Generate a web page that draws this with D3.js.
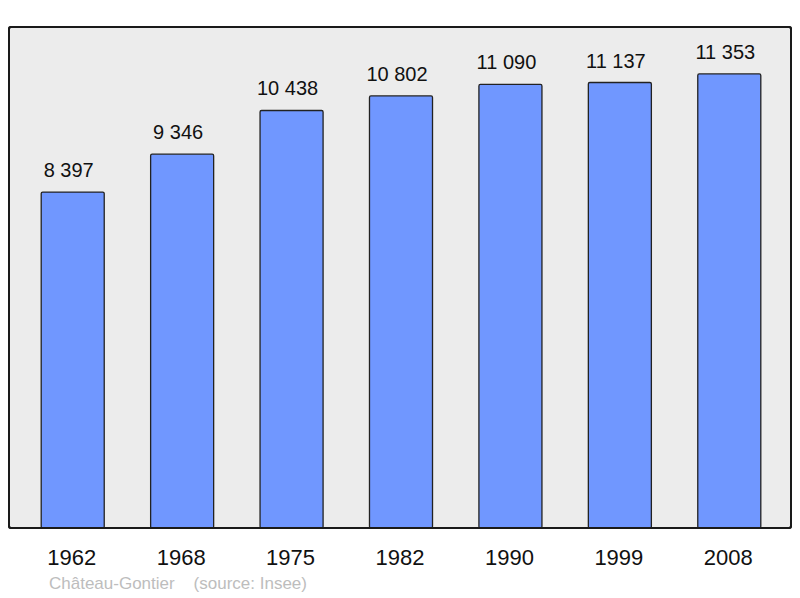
<!DOCTYPE html>
<html>
<head>
<meta charset="utf-8">
<script src="https://cdn.jsdelivr.net/npm/d3@7"></script>
<style>
  body { margin: 0; background: #fff; }
  text { font-family: "Liberation Sans", Arial, sans-serif; }
</style>
</head>
<body>
<svg id="chart" width="800" height="598"></svg>
<script>
var years = ["1962", "1968", "1975", "1982", "1990", "1999", "2008"];
var population = [8397, 9346, 10438, 10802, 11090, 11137, 11353];
var valueLabels = ["8 397", "9 346", "10 438", "10 802", "11 090", "11 137", "11 353"];
var sourceText = "Château-Gontier    (source: Insee)";

var svg = d3.select("#chart"),
    panel = { left: 9, top: 27, right: 791, bottom: 528 };

var x = d3.scaleBand()
    .domain(years)
    .range([18, 784])
    .paddingInner(0.424)
    .paddingOuter(0.212);

var y = d3.scaleLinear()
    .domain([0, 12500])
    .range([panel.bottom, panel.top + 1]);

// background panel
svg.append("rect")
    .attr("x", panel.left)
    .attr("y", panel.top)
    .attr("width", panel.right - panel.left)
    .attr("height", panel.bottom - panel.top)
    .attr("rx", 2)
    .attr("fill", "#ececec")
    .attr("stroke", "#1a1a1a")
    .attr("stroke-width", 2);

var data = years.map(function(d, i) {
    return { year: d, value: population[i], label: valueLabels[i] };
});

svg.selectAll(".bar")
    .data(data)
    .enter().append("rect")
    .attr("class", "bar")
    .attr("x", function(d) { return x(d.year); })
    .attr("y", function(d) { return y(d.value); })
    .attr("width", x.bandwidth())
    .attr("height", function(d) { return y(0) - y(d.value); })
    .attr("rx", 1.5)
    .attr("fill", "#7097ff")
    .attr("stroke", "#222")
    .attr("stroke-width", 1.3);

// value labels sit a little left of the bar centre, as in the original
svg.selectAll(".val")
    .data(data)
    .enter().append("text")
    .attr("class", "val")
    .attr("x", function(d) { return x(d.year) + x.bandwidth() / 2 - 4; })
    .attr("y", function(d) { return y(d.value) - 15; })
    .attr("text-anchor", "middle")
    .attr("font-size", 20)
    .attr("fill", "#111")
    .text(function(d) { return d.label; });

// redraw panel frame on top of bar bottoms
svg.append("rect")
    .attr("x", panel.left)
    .attr("y", panel.top)
    .attr("width", panel.right - panel.left)
    .attr("height", panel.bottom - panel.top)
    .attr("rx", 2)
    .attr("fill", "none")
    .attr("stroke", "#1a1a1a")
    .attr("stroke-width", 2);

var xAxis = svg.append("g")
    .attr("transform", "translate(-1," + panel.bottom + ")")
    .call(d3.axisBottom(x).tickSize(0).tickPadding(21));
xAxis.select(".domain").remove();
xAxis.selectAll("text")
    .attr("font-size", 22)
    .attr("fill", "#111")
    .style("font-family", "'Liberation Sans', Arial, sans-serif");

svg.append("text")
    .attr("x", 49)
    .attr("y", 589)
    .attr("font-size", 17)
    .attr("fill", "#bdbdbd")
    .attr("xml:space", "preserve")
    .style("white-space", "pre")
    .text(sourceText);
</script>
</body>
</html>
